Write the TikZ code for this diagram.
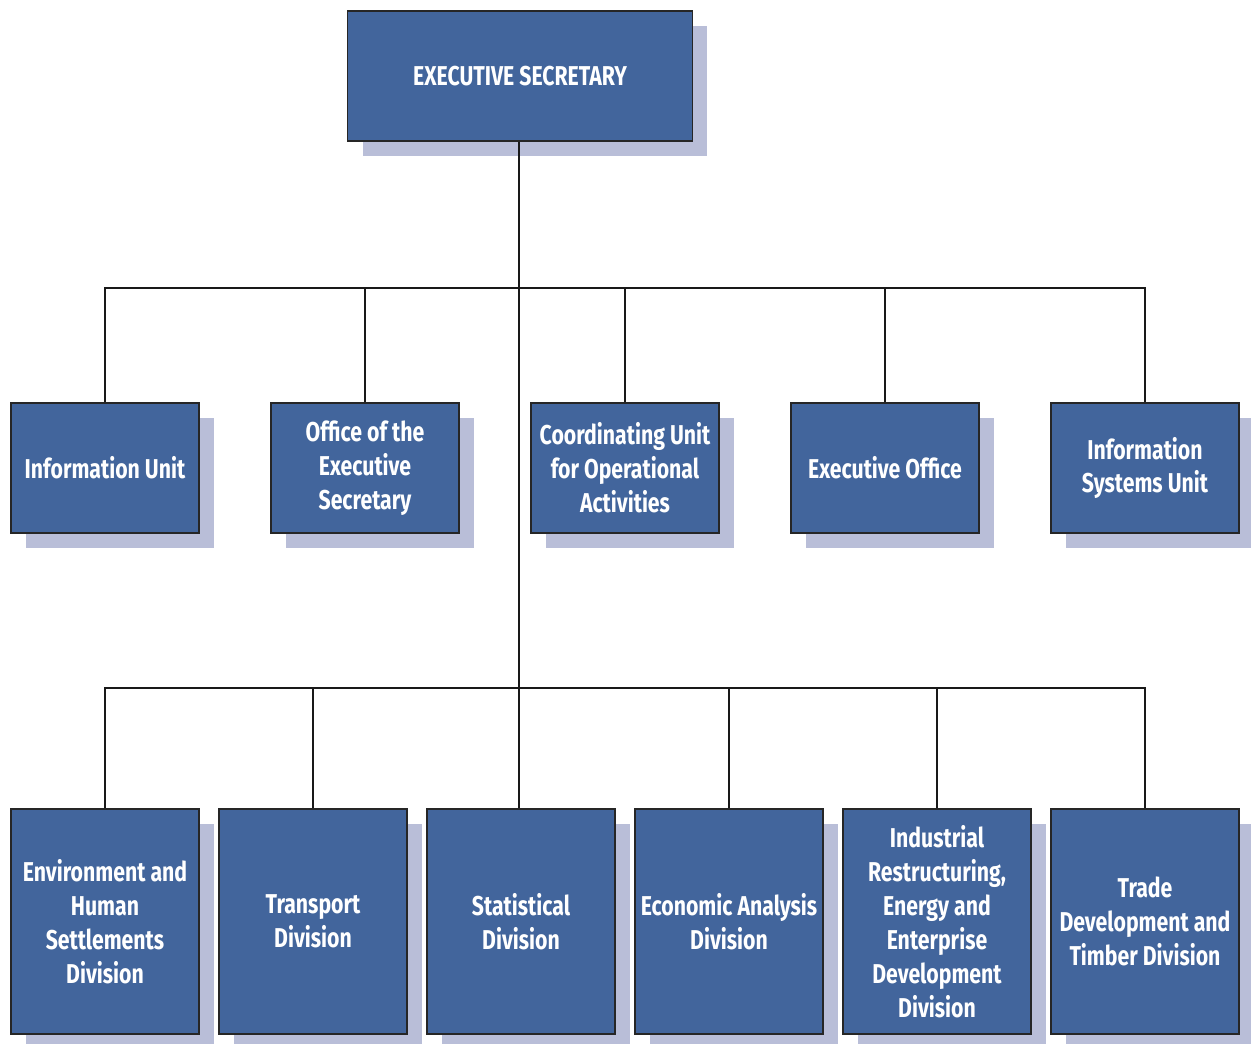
\documentclass[tikz,border=0pt]{standalone}
\usepackage{fontspec}
\newfontfamily\orgfont{Fira Sans}[FakeStretch=0.78]
\usetikzlibrary{positioning, shadows}

\definecolor{boxblue}{RGB}{66,101,156}
\definecolor{shadowblue}{RGB}{185,190,216}

\tikzset{
  unit/.style={draw=black!85, line width=0.8pt, fill=boxblue, text=white,
    minimum width=3.76cm, minimum height=2.6cm, align=center, inner xsep=1pt,
    font=\orgfont\bfseries\fontsize{15.5}{19.3}\selectfont,
    drop shadow={shadow xshift=0.3cm, shadow yshift=-0.3cm, fill=shadowblue, opacity=1}},
  division/.style={unit, minimum height=4.5cm},
  link/.style={line width=1.3pt, black!90}
}

\begin{document}
\begin{tikzpicture}[x=0.02cm, y=-0.02cm]
  \useasboundingbox (0,0) rectangle (1251,1044);

  % top
  \node (exec) at (520,76) [unit, minimum width=6.9cm] {EXECUTIVE SECRETARY};

  % middle row
  \node (info) at (105,468) [unit] {Information Unit};
  \node (office) at (365,468) [unit] {Office of the\\Executive\\Secretary};
  \node (coord) at (625,468) [unit] {Coordinating Unit\\for Operational\\Activities};
  \node (execoff) at (885,468) [unit] {Executive Office};
  \node (isu) at (1145,468) [unit] {Information\\Systems Unit};

  % bottom row
  \node (env) at (105,921.5) [division] {Environment and\\Human\\Settlements\\Division};
  \node (trans) at (313,921.5) [division] {Transport\\Division};
  \node (stat) at (521,921.5) [division] {Statistical\\Division};
  \node (econ) at (729,921.5) [division] {Economic Analysis\\Division};
  \node (ind) at (937,921.5) [division] {Industrial\\Restructuring,\\Energy and\\Enterprise\\Development\\Division};
  \node (trade) at (1145,921.5) [division] {Trade\\Development and\\Timber Division};

  \coordinate (busa) at (519,288);
  \coordinate (busb) at (519,688);

  % connectors
  \draw [link] (exec.south -| busa) -- (stat.north -| busa);
  \draw [link] (info.north) |- (busa) -| (isu.north);
  \draw [link] (office.north) -- (office.north |- busa);
  \draw [link] (coord.north) -- (coord.north |- busa);
  \draw [link] (execoff.north) -- (execoff.north |- busa);
  \draw [link] (env.north) |- (busb) -| (trade.north);
  \draw [link] (trans.north) -- (trans.north |- busb);
  \draw [link] (econ.north) -- (econ.north |- busb);
  \draw [link] (ind.north) -- (ind.north |- busb);
\end{tikzpicture}
\end{document}
